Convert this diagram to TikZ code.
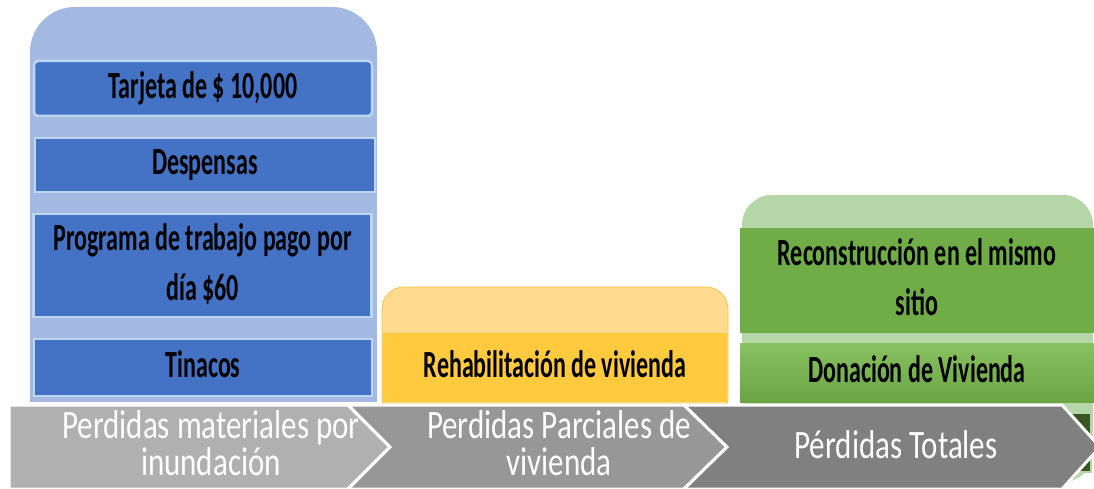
\documentclass[tikz,border=0pt]{standalone}
\usepackage{fontspec}
\setmainfont{Carlito}
\usepackage{graphicx}
\definecolor{bluebg}{HTML}{A4B9E1}
\definecolor{bluebox}{HTML}{4472C4}
\definecolor{blueedge}{HTML}{BDD7EE}
\definecolor{yellowbg}{HTML}{FEDB8F}
\definecolor{yellowedge}{HTML}{F8C441}
\definecolor{yellowbox}{HTML}{FFCA3E}
\definecolor{greenbg}{HTML}{B5D6A7}
\definecolor{greenbox}{HTML}{70AD47}
\definecolor{greenlight}{HTML}{88C260}
\definecolor{greendark}{HTML}{375623}
\definecolor{chevA}{HTML}{B0B0B0}
\definecolor{chevB}{HTML}{979797}
\definecolor{chevC}{HTML}{808080}
\newcommand\boxtext[1]{\scalebox{1}[1.6]{\fontsize{24}{31}\selectfont\bfseries\begin{tabular}{@{}c@{}}#1\end{tabular}}}
\newcommand\chevtext[1]{\scalebox{1}[1.3]{\fontsize{31}{25.4}\selectfont\begin{tabular}{@{}c@{}}#1\end{tabular}}}
\begin{document}
\begin{tikzpicture}[x=1pt,y=-1pt,
  itembox/.style={inner sep=0pt, text=black},
  blueitem/.style={itembox, fill=bluebox, draw=blueedge, line width=2.5pt},
  yellowitem/.style={itembox, fill=yellowbox},
  greenitem/.style={itembox, fill=greenbox},
  chevron/.style={draw=white, line width=3pt, line join=miter},
  chevlabel/.style={inner sep=0pt, text=white}]
\useasboundingbox (0,0) rectangle (1094,489);
% group backgrounds
\fill[bluebg, rounded corners=45pt] (30,7) rectangle (377,120);
\fill[bluebg] (30,60) rectangle (377,402);
\filldraw[fill=yellowbg, draw=yellowedge, line width=0.8pt, rounded corners=22pt] (382,287) rectangle (728,420);
\fill[greenbg, rounded corners=30pt] (742,195) rectangle (1093,482);
\filldraw[fill=greendark, draw=greenbg, line width=1.5pt] (1060,413) rectangle (1091,472);
% items
\node[blueitem, rounded corners=4pt, minimum width=338pt, minimum height=55pt] (tarjeta) at (203,88.5) {\boxtext{Tarjeta de \$ 10,000}};
\node[blueitem, minimum width=340pt, minimum height=54pt] (despensas) at (205,165) {\boxtext{Despensas}};
\node[blueitem, minimum width=338pt, minimum height=103pt] (programa) at (202.5,265.5) {\boxtext{Programa de trabajo pago por\\día \$60}};
\node[blueitem, minimum width=338pt, minimum height=57pt] (tinacos) at (203,367.5) {\boxtext{Tinacos}};
\node[yellowitem, minimum width=344pt, minimum height=69pt] (rehab) at (555,367.5) {\boxtext{Rehabilitación de vivienda}};
\node[greenitem, minimum width=354pt, minimum height=105pt] (recon) at (917,280.5) {\boxtext{Reconstrucción en el mismo\\sitio}};
\node[itembox, top color=greenlight, bottom color=greenbox!95!black, minimum width=354pt, minimum height=59pt] (donacion) at (917,372.5) {\boxtext{Donación de Vivienda}};
% chevrons
\filldraw[chevron, fill=chevA] (9,405) -- (348,405) -- (390,447) -- (348,489) -- (9,489) -- cycle;
\filldraw[chevron, fill=chevB] (348,405) -- (684,405) -- (727,447) -- (684,489) -- (348,489) -- (390,447) -- cycle;
\filldraw[chevron, fill=chevC] (684,405) -- (1062,405) -- (1100,447) -- (1062,489) -- (684,489) -- (727,447) -- cycle;
\node[chevlabel] (chev1) at (211,448) {\chevtext{Perdidas materiales por\\inundación}};
\node[chevlabel] (chev2) at (559,448) {\chevtext{Perdidas Parciales de\\vivienda}};
\node[chevlabel] (chev3) at (896,449) {\chevtext{Pérdidas Totales}};
\end{tikzpicture}
\end{document}
